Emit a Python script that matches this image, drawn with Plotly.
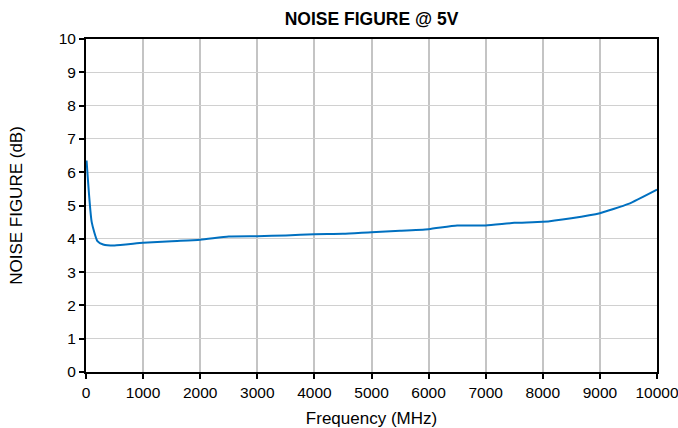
import plotly.graph_objects as go

freq_mhz = [10, 100, 200, 300, 500, 1000, 1500, 2000, 2500, 3000, 3500, 4000, 4500,
            5000, 5500, 6000, 6500, 7000, 7500, 8000, 8500, 9000, 9500, 10000]
noise_figure_db = [6.35, 4.5, 3.93, 3.83, 3.80, 3.88, 3.93, 3.97, 4.07, 4.08, 4.10, 4.14, 4.15,
                   4.20, 4.24, 4.29, 4.40, 4.40, 4.48, 4.51, 4.62, 4.77, 5.05, 5.48]
x_ticks = list(range(0, 10001, 1000))
y_ticks = list(range(0, 11))

fig = go.Figure()
fig.add_trace(go.Scatter(
    x=freq_mhz, y=noise_figure_db, mode="lines",
    line=dict(color="#0070c0", width=2, shape="spline", smoothing=0.5),
    showlegend=False,
))

fig.update_layout(
    width=678, height=428,
    margin=dict(l=86, r=21, t=39, b=56),
    paper_bgcolor="white", plot_bgcolor="white",
    font=dict(family="Liberation Sans, Arial, sans-serif", size=15.5, color="#000000"),
    title=dict(text="<b>NOISE FIGURE @ 5V</b>", x=0.5, xanchor="center", xref="paper",
               y=1 - 19 / 428, yref="container", yanchor="middle",
               font=dict(size=17.5, color="#000000")),
)
fig.update_xaxes(
    range=[0, 10000], tickvals=x_ticks, ticktext=[str(v) for v in x_ticks],
    showgrid=True, gridcolor="#c4c4c4", gridwidth=2,
    showline=True, linecolor="#000000", linewidth=2, mirror=True,
    ticks="outside", ticklen=5, tickcolor="#000000", tickwidth=1.5,
    zeroline=False, automargin=False, ticklabeloverflow="allow",
    title=dict(text="Frequency (MHz)", font=dict(size=17), standoff=14),
)
fig.update_yaxes(
    range=[0, 10], tickvals=y_ticks, ticktext=[str(v) for v in y_ticks],
    showgrid=True, gridcolor="#d0d0d0", gridwidth=1,
    showline=True, linecolor="#000000", linewidth=2, mirror=True,
    ticks="outside", ticklen=5, tickcolor="#000000", tickwidth=1.5,
    zeroline=False, automargin=False, ticklabeloverflow="allow",
    title=dict(text="NOISE FIGURE (dB)", font=dict(size=17), standoff=32),
)

fig.write_html("out.html")
